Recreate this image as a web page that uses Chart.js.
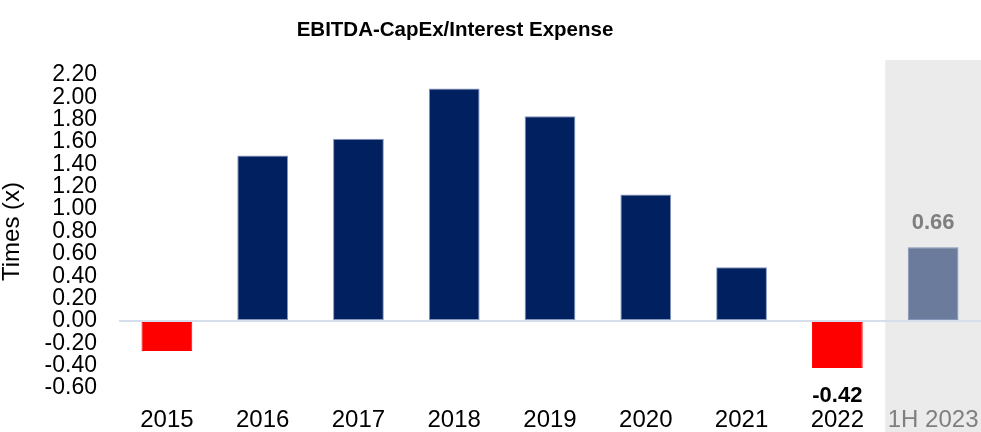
<!DOCTYPE html>
<html>
<head>
<meta charset="utf-8">
<script src="https://cdn.jsdelivr.net/npm/chart.js@4.4.1/dist/chart.umd.min.js"></script>
<style>
  html, body { margin: 0; padding: 0; background: #fff; overflow: hidden; }
  canvas { display: block; }
</style>
</head>
<body>
<canvas id="chart" width="981" height="432"></canvas>
<script>
// chart data
const years = ['2015', '2016', '2017', '2018', '2019', '2020', '2021', '2022', '1H 2023'];
const coverage = [-0.27, 1.48, 1.63, 2.08, 1.83, 1.13, 0.48, -0.42, 0.66];
const showValue = [false, false, false, false, false, false, false, true, true];
const yTicks = [-0.6, 2.2, 0.2]; // min, max, step
const chartTitle = 'EBITDA-CapEx/Interest Expense';

const NAVY = '#002060';
const RED = '#ff0000';
const PARTIAL = '#6b7b9b';
const GREY_TXT = '#7f7f7f';
const FONT = "'Liberation Sans', Arial, sans-serif";

const barColors = coverage.map((v, i) => {
  if (i === years.length - 1) return PARTIAL;
  return v < 0 ? RED : NAVY;
});

// grey box behind the partial-year column
const shadePlugin = {
  id: 'shade',
  beforeDraw(chart) {
    const x = chart.scales.x;
    const area = chart.chartArea;
    const last = years.length - 1;
    const half = (x.getPixelForValue(last) - x.getPixelForValue(last - 1)) / 2;
    const left = x.getPixelForValue(last) - half;
    const ctx = chart.ctx;
    ctx.save();
    ctx.fillStyle = '#ebebeb';
    ctx.fillRect(left, area.top - 15, chart.width - left, chart.height - area.top + 15);
    ctx.restore();
  }
};

// title sits a bit left of centre in the original
const titlePlugin = {
  id: 'offTitle',
  afterDraw(chart) {
    const ctx = chart.ctx;
    ctx.save();
    ctx.font = 'bold 20.5px ' + FONT;
    ctx.fillStyle = '#000';
    ctx.textAlign = 'center';
    ctx.textBaseline = 'middle';
    ctx.fillText(chartTitle, 455, 30);
    ctx.restore();
  }
};

// value labels for 2022 and 1H 2023
const valueLabels = {
  id: 'valueLabels',
  afterDatasetsDraw(chart) {
    const ctx = chart.ctx;
    const meta = chart.getDatasetMeta(0);
    ctx.save();
    ctx.font = 'bold 22px ' + FONT;
    ctx.textAlign = 'center';
    ctx.textBaseline = 'middle';
    meta.data.forEach((bar, i) => {
      if (!showValue[i]) return;
      const v = coverage[i];
      ctx.fillStyle = i === years.length - 1 ? GREY_TXT : '#000';
      const y = v < 0 ? bar.y + 28 : bar.y - 24;
      ctx.fillText(v.toFixed(2), bar.x, y);
    });
    ctx.restore();
  }
};

new Chart(document.getElementById('chart'), {
  type: 'bar',
  data: {
    labels: years,
    datasets: [{
      data: coverage,
      backgroundColor: barColors,
      borderColor: coverage.map((v) => (v < 0 ? RED : '#8496bb')),
      borderWidth: 1,
      borderSkipped: false,
      barPercentage: 0.53,
      categoryPercentage: 1
    }]
  },
  options: {
    responsive: false,
    animation: false,
    layout: { padding: { top: 75, right: -4, bottom: 0, left: 0 } },
    plugins: {
      legend: { display: false },
      tooltip: { enabled: false },
      title: { display: false }
    },
    scales: {
      x: {
        afterFit(scale) { scale.height = 44; },
        grid: { display: false, drawTicks: false },
        border: { display: false },
        ticks: {
          padding: 0,
          autoSkip: false,
          maxRotation: 0,
          minRotation: 0,
          font: { family: FONT, size: 24, lineHeight: 2.67 },
          color: (c) => (c.index === years.length - 1 ? GREY_TXT : '#000')
        }
      },
      y: {
        min: yTicks[0],
        max: yTicks[1],
        afterFit(scale) { scale.width = 119; },
        grid: {
          drawTicks: false,
          lineWidth: 2,
          color: (c) => (Math.abs(c.tick.value) < 1e-9 ? '#d6deec' : 'rgba(0,0,0,0)')
        },
        border: { display: false },
        ticks: {
          stepSize: yTicks[2],
          autoSkip: false,
          padding: 22,
          font: { family: FONT, size: 23, lineHeight: 1 },
          color: '#000',
          callback: (v) => Number(v).toFixed(2)
        },
        title: {
          display: true,
          text: 'Times (x)',
          color: '#000',
          font: { family: FONT, size: 24, lineHeight: 1 },
          padding: { top: 0, bottom: 0 }
        }
      }
    }
  },
  plugins: [shadePlugin, titlePlugin, valueLabels]
});
</script>
</body>
</html>
